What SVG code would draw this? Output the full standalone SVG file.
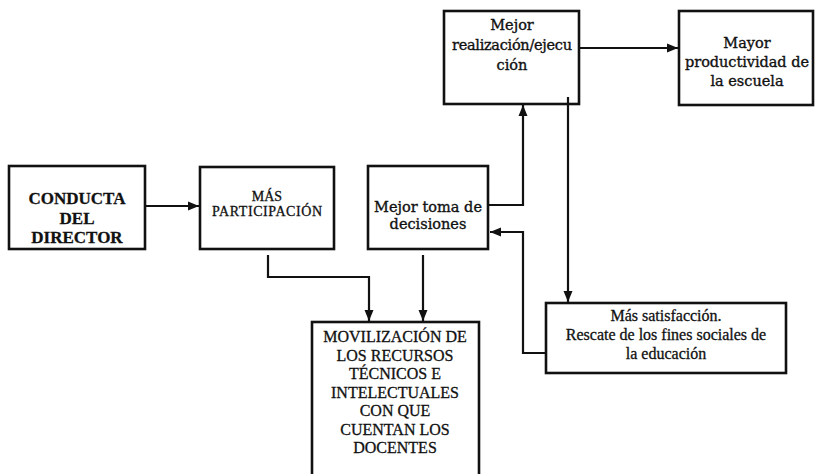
<svg xmlns="http://www.w3.org/2000/svg" width="819" height="474" viewBox="0 0 819 474">
<style>
.box{fill:none;stroke:#111;stroke-width:2.6}
.ln{fill:none;stroke:#111;stroke-width:2.2}
.t{font-family:"Liberation Serif","Times New Roman",serif;fill:#111;text-anchor:middle;stroke:#111;stroke-width:0.3}
.b{font-family:"DejaVu Serif","Liberation Serif",serif;fill:#111;text-anchor:middle;font-size:14.5px;stroke:#111;stroke-width:0.35}
</style>
<defs>
<marker id="ah" markerUnits="userSpaceOnUse" markerWidth="12" markerHeight="10" refX="11" refY="5" orient="auto">
<path d="M0,0.5 L11,5 L0,9.5 Z" fill="#111"/>
</marker>
</defs>
<rect width="819" height="474" fill="#fff"/>
<g id="conducta">
<rect class="box" x="9" y="166" width="136" height="83"/>
<text class="t" font-size="17" font-weight="bold" x="77" y="204">CONDUCTA</text>
<text class="t" font-size="17" font-weight="bold" x="77" y="224">DEL</text>
<text class="t" font-size="17" font-weight="bold" x="77" y="243">DIRECTOR</text>
</g>
<g id="participacion">
<rect class="box" x="200" y="167" width="134" height="82"/>
<text class="t" font-size="14" x="267" y="201">MÁS</text>
<text class="t" font-size="14" x="267" y="216" textLength="110">PARTICIPACIÓN</text>
</g>
<g id="toma">
<rect class="box" x="368" y="166" width="120" height="83"/>
<text class="b" x="428" y="212" textLength="108">Mejor toma de</text>
<text class="b" x="428" y="229">decisiones</text>
</g>
<g id="realizacion">
<rect class="box" x="444" y="11" width="135" height="93"/>
<text class="b" x="512" y="30">Mejor</text>
<text class="b" x="512" y="50" textLength="120">realización/ejecu</text>
<text class="b" x="512" y="70">ción</text>
</g>
<g id="productividad">
<rect class="box" x="679" y="11" width="134" height="94"/>
<text class="b" x="747" y="48">Mayor</text>
<text class="b" x="747" y="67" textLength="124">productividad de</text>
<text class="b" x="747" y="86">la escuela</text>
</g>
<g id="satisfaccion">
<rect class="box" x="546" y="303" width="240" height="70"/>
<text class="t" font-size="16" x="666" y="321">Más satisfacción.</text>
<text class="t" font-size="16" x="666" y="340">Rescate de los fines sociales de</text>
<text class="t" font-size="16" x="666" y="359">la educación</text>
</g>
<g id="movilizacion">
<rect class="box" x="312" y="322" width="167" height="160"/>
<text class="t" font-size="16" x="395" y="342">MOVILIZACIÓN DE</text>
<text class="t" font-size="16" x="395" y="361">LOS RECURSOS</text>
<text class="t" font-size="16" x="395" y="379">TÉCNICOS E</text>
<text class="t" font-size="16" x="395" y="398">INTELECTUALES</text>
<text class="t" font-size="16" x="395" y="416">CON QUE</text>
<text class="t" font-size="16" x="395" y="435">CUENTAN LOS</text>
<text class="t" font-size="16" x="395" y="453">DOCENTES</text>
</g>
<g id="connectors">
<path class="ln" d="M145,206 H199" marker-end="url(#ah)"/>
<path class="ln" d="M268,255 V277 H369 V321" marker-end="url(#ah)"/>
<path class="ln" d="M423,255 V321" marker-end="url(#ah)"/>
<path class="ln" d="M488,205 H523 V105" marker-end="url(#ah)"/>
<path class="ln" d="M579,48 H678" marker-end="url(#ah)"/>
<path class="ln" d="M568,97 V302" marker-end="url(#ah)"/>
<path class="ln" d="M546,353 H523 V232 H490" marker-end="url(#ah)"/>
</g>
</svg>
